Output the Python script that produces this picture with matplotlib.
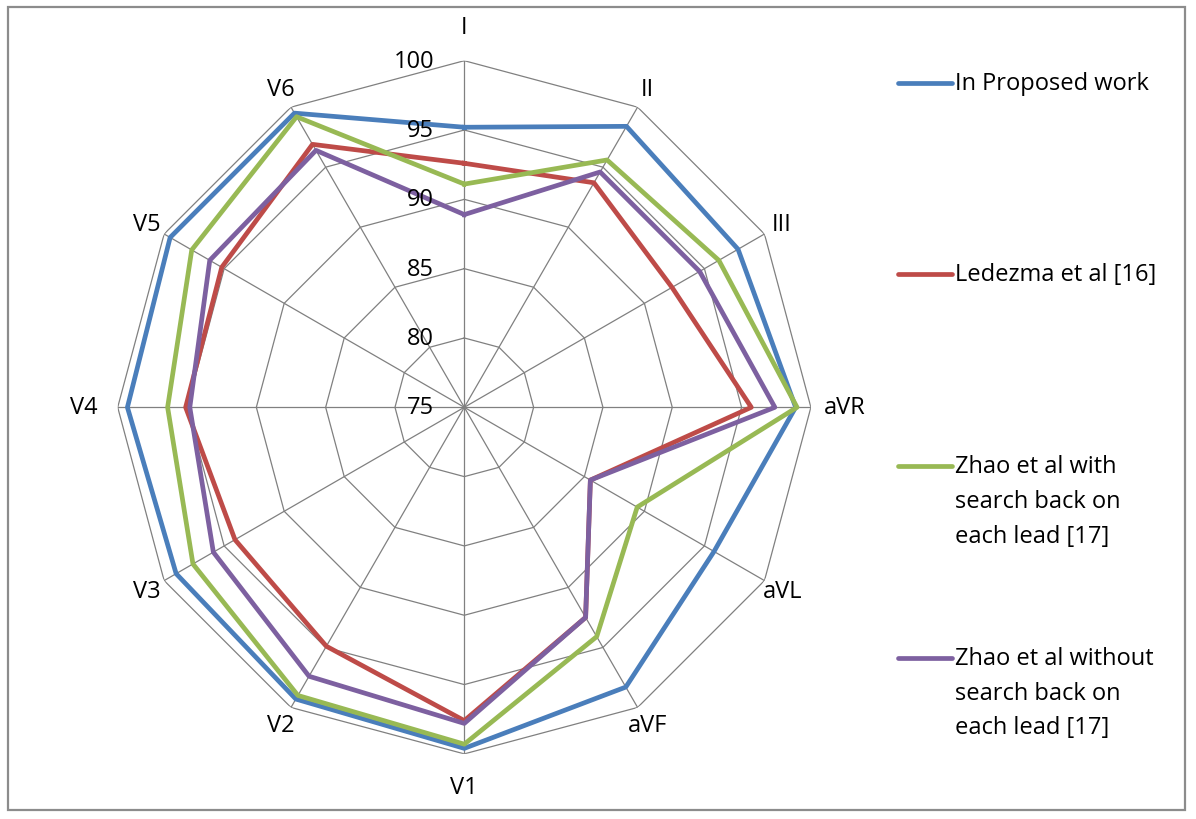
import numpy as np
import matplotlib
matplotlib.use("Agg")
import matplotlib.pyplot as plt
from matplotlib.lines import Line2D
from matplotlib.patches import Rectangle
from matplotlib.transforms import ScaledTranslation

plt.rcParams['font.family'] = ['Open Sans', 'DejaVu Sans']

categories = ['I', 'II', 'III', 'aVR', 'aVL', 'aVF', 'V1', 'V2', 'V3', 'V4', 'V5', 'V6']
proposed   = [95.2, 98.4, 97.8, 98.9, 95.8, 98.3, 99.6, 99.3, 99.0, 99.3, 99.5, 99.5]
ledezma    = [92.6, 93.7, 92.3, 95.7, 85.5, 92.5, 97.6, 94.9, 94.1, 95.1, 95.2, 96.9]
zhao_with  = [91.1, 95.6, 96.2, 99.0, 89.4, 94.1, 99.3, 99.0, 97.6, 96.4, 97.7, 99.2]
zhao_wo    = [88.9, 94.6, 94.6, 97.4, 85.5, 92.5, 97.8, 97.4, 95.9, 94.8, 96.2, 96.4]
series_names = ['In Proposed work', 'Ledezma et al [16]',
                'Zhao et al with\nsearch back on\neach lead [17]',
                'Zhao et al without\nsearch back on\neach lead [17]']
tick_values = [75, 80, 85, 90, 95, 100]

colors = ['#4A7EBB', '#BE4B48', '#98B954', '#7D60A0']
grid_color = '#808080'
FS = 17

W, H = 1196, 820
fig = plt.figure(figsize=(W / 100, H / 100), dpi=100)

# chart frame
fig.patches.append(Rectangle((8 / W, 1 - 811 / H), (1185 - 8) / W, (811 - 8) / H,
                             transform=fig.transFigure, fill=False,
                             edgecolor='#8C8C8C', lw=1.6))

cx, cy, R = 464.3, 408.3, 346.6
ax = fig.add_axes([(cx - R) / W, 1 - (cy + R) / H, 2 * R / W, 2 * R / H],
                  projection='polar')
ax.set_theta_offset(np.pi / 2)
ax.set_theta_direction(-1)
ax.set_ylim(tick_values[0], tick_values[-1])
ax.set_xticks([])
ax.set_yticks([])
ax.grid(False)
ax.spines['polar'].set_visible(False)
ax.patch.set_alpha(0)

n = len(categories)
theta = np.arange(n) * 2 * np.pi / n
theta_c = np.append(theta, theta[0])

# polygon grid
for lv in tick_values[1:]:
    ax.plot(theta_c, [lv] * (n + 1), color=grid_color, lw=0.9, zorder=1)
for th in theta:
    ax.plot([th, th], [tick_values[0], tick_values[-1]], color=grid_color, lw=0.9, zorder=1)

# data
for vals, col in zip([proposed, ledezma, zhao_with, zhao_wo], colors):
    v = np.append(vals, vals[0])
    ax.plot(theta_c, v, color=col, lw=3.4, zorder=3, solid_joinstyle='round')

# value labels on the vertical axis
off = ax.transData + ScaledTranslation(-30 / 100, 0, fig.dpi_scale_trans)
for tv in tick_values:
    ax.text(0, tv, str(tv), transform=off, ha='right', va='center',
            fontsize=FS, color='black', zorder=4)

# category labels
span = tick_values[-1] - tick_values[0]
for th, lab in zip(theta, categories):
    deg = np.degrees(th) % 90
    rpx = 380 if deg < 1 else 367
    r = tick_values[0] + rpx / R * span
    ax.text(th, r, lab, ha='center', va='center', fontsize=FS, clip_on=False)

# legend
leg_y = [[84], [275], [467, 502, 537], [659, 694, 728]]
for name, col, ys in zip(series_names, colors, leg_y):
    fig.add_artist(Line2D([898 / W, 952 / W], [1 - ys[0] / H] * 2,
                          transform=fig.transFigure, color=col, lw=3.4,
                          solid_capstyle='round'))
    for line, y in zip(name.split('\n'), ys):
        fig.text(955 / W, 1 - y / H, line, ha='left', va='center', fontsize=FS)

fig.savefig('out.png', dpi=100, facecolor='white')
